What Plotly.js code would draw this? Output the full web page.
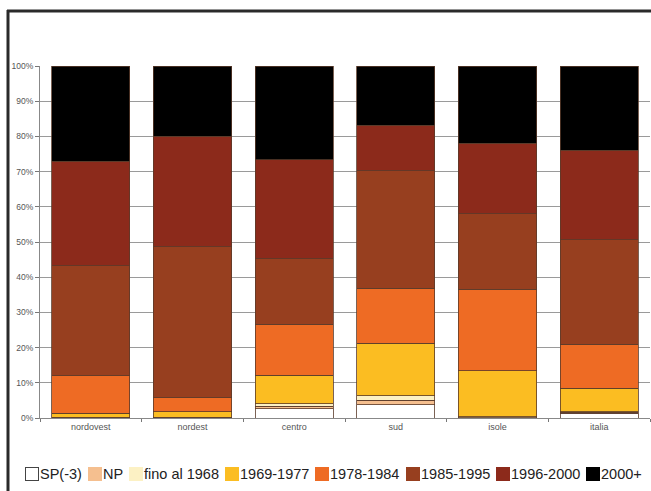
<!DOCTYPE html>
<html>
<head>
<meta charset="utf-8">
<script src="https://cdn.plot.ly/plotly-3.0.1.min.js"></script>
<style>html,body{margin:0;padding:0;background:#fff;}#chart{width:651px;height:491px;}</style>
</head>
<body>
<div id="chart"></div>
<script>
const categories = ['nordovest', 'nordest', 'centro', 'sud', 'isole', 'italia'];
const seriesNames = ['SP(-3)', 'NP', 'fino al 1968', '1969-1977', '1978-1984', '1985-1995', '1996-2000', '2000+'];
const sp3   = [0, 0, 2.6, 3.7, 0, 1.3];
const np    = [0, 0, 0.7, 1.4, 0.1, 0.3];
const fino  = [0.2, 0.2, 0.8, 1.2, 0.3, 0.2];
const p6977 = [1.1, 1.6, 8.1, 15.0, 13.0, 6.6];
const p7884 = [10.7, 4.0, 14.5, 15.6, 23.2, 12.6];
const p8595 = [31.3, 42.8, 18.5, 33.3, 21.4, 29.6];
const p9600 = [29.7, 31.5, 28.1, 13.0, 20.1, 25.5];
const p2000 = [27.0, 19.9, 26.7, 16.8, 21.9, 23.9];
const yTicks = [0, 10, 20, 30, 40, 50, 60, 70, 80, 90, 100];

const seriesValues = [sp3, np, fino, p6977, p7884, p8595, p9600, p2000];
const colors = ['#ffffff', '#f5bf8f', '#fcf1c4', '#fbbd22', '#ee6b24', '#973f1f', '#8c2a1b', '#000000'];

const traces = seriesValues.map((vals, i) => ({
  type: 'bar',
  name: seriesNames[i],
  x: categories,
  y: vals,
  marker: {color: colors[i], line: {color: '#5a3b2a', width: 0.8}},
  hoverinfo: 'skip',
  showlegend: false
}));

// pixel -> paper conversion (plot area 40..650 px horizontally, 66..418 px vertically)
const pxX = px => (px - 40) / 610;
const pxY = py => (418 - py) / 352;

// legend built from squares + text annotations, laid out by measured text widths
const legendFontSize = 14.5;
const legendFont = 'Liberation Sans, Arial, sans-serif';
const ctx = document.createElement('canvas').getContext('2d');
ctx.font = legendFontSize + 'px "Liberation Sans", Arial, sans-serif';
const legendAnnotations = [];
let cx = 25;
const legendY = pxY(474);
seriesNames.forEach((n, i) => {
  legendAnnotations.push({
    xref: 'paper', yref: 'paper', x: pxX(cx), y: legendY,
    xanchor: 'left', yanchor: 'middle', showarrow: false,
    text: ' ', width: 12, height: 12, borderpad: 0,
    bgcolor: colors[i],
    bordercolor: i === 0 ? '#444444' : colors[i], borderwidth: 1
  });
  const tx = cx + 14;
  legendAnnotations.push({
    xref: 'paper', yref: 'paper', x: pxX(tx), y: legendY,
    xanchor: 'left', yanchor: 'middle', showarrow: false,
    text: n, borderpad: 0,
    font: {family: legendFont, size: legendFontSize, color: '#222222'}
  });
  cx = tx + ctx.measureText(n).width + 7;
});

const layout = {
  width: 651, height: 491,
  margin: {l: 40, r: 1, t: 66, b: 73},
  paper_bgcolor: '#ffffff',
  plot_bgcolor: '#ffffff',
  barmode: 'stack',
  bargap: 0.23,
  showlegend: false,
  font: {family: 'Liberation Sans, Arial, sans-serif', color: '#555555'},
  xaxis: {
    type: 'category',
    range: [-0.5, 5.5],
    showline: true, linecolor: '#888888', linewidth: 1,
    ticks: 'outside', tickson: 'boundaries', ticklen: 3, tickcolor: '#777777',
    tickfont: {size: 9, color: '#555555'},
    showgrid: false, zeroline: false
  },
  yaxis: {
    range: [0, 100],
    tickvals: yTicks,
    ticktext: yTicks.map(v => v + '%'),
    ticks: 'outside', ticklen: 4, tickcolor: '#777777',
    tickfont: {size: 8.5, color: '#555555'},
    showline: true, linecolor: '#888888', linewidth: 1,
    showgrid: true, gridcolor: '#9a9a9a', gridwidth: 1,
    zeroline: false
  },
  shapes: [
    {type: 'line', xref: 'paper', yref: 'paper', x0: pxX(7), x1: pxX(651), y0: pxY(11), y1: pxY(11), line: {color: '#2a2a2a', width: 3}},
    {type: 'line', xref: 'paper', yref: 'paper', x0: pxX(8), x1: pxX(8), y0: pxY(10), y1: pxY(491), line: {color: '#2a2a2a', width: 3}}
  ],
  annotations: legendAnnotations
};

Plotly.newPlot('chart', traces, layout, {displayModeBar: false, staticPlot: true});
</script>
</body>
</html>
